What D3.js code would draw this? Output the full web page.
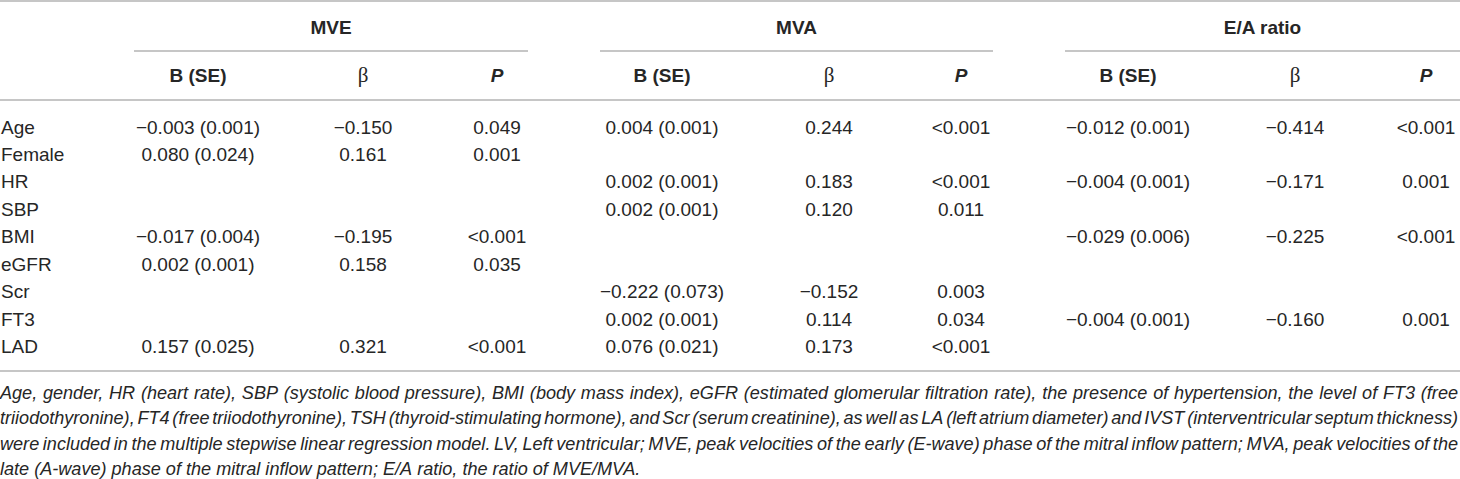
<!DOCTYPE html>
<html>
<head>
  <meta charset="utf-8">
  <script src="https://d3js.org/d3.v7.min.js"></script>
  <style>
    body { margin: 0; background: #fff; }
    svg text { font-family: "Liberation Sans", Arial, sans-serif; fill: #262626; }
  </style>
</head>
<body>
  <div id="area"></div>

  <script type="text/javascript">
    // row labels and column headers
    var rows = ["Age", "Female", "HR", "SBP", "BMI", "eGFR", "Scr", "FT3", "LAD"];
    var groups = ["MVE", "MVA", "E/A ratio"];
    var subHeads = ["B (SE)", "\u03b2", "P"];

    // MVE model ("" = not retained in the model)
    var mveB    = ["\u22120.003 (0.001)", "0.080 (0.024)", "", "", "\u22120.017 (0.004)", "0.002 (0.001)", "", "", "0.157 (0.025)"];
    var mveBeta = ["\u22120.150", "0.161", "", "", "\u22120.195", "0.158", "", "", "0.321"];
    var mveP    = ["0.049", "0.001", "", "", "<0.001", "0.035", "", "", "<0.001"];

    // MVA model
    var mvaB    = ["0.004 (0.001)", "", "0.002 (0.001)", "0.002 (0.001)", "", "", "\u22120.222 (0.073)", "0.002 (0.001)", "0.076 (0.021)"];
    var mvaBeta = ["0.244", "", "0.183", "0.120", "", "", "\u22120.152", "0.114", "0.173"];
    var mvaP    = ["<0.001", "", "<0.001", "0.011", "", "", "0.003", "0.034", "<0.001"];

    // E/A ratio model
    var eaB    = ["\u22120.012 (0.001)", "", "\u22120.004 (0.001)", "", "\u22120.029 (0.006)", "", "", "\u22120.004 (0.001)", ""];
    var eaBeta = ["\u22120.414", "", "\u22120.171", "", "\u22120.225", "", "", "\u22120.160", ""];
    var eaP    = ["<0.001", "", "0.001", "", "<0.001", "", "", "0.001", ""];

    // footnote, as broken in the original
    var noteLines = [
      "Age, gender, HR (heart rate), SBP (systolic blood pressure), BMI (body mass index), eGFR (estimated glomerular filtration rate), the presence of hypertension, the level of FT3 (free",
      "triiodothyronine), FT4 (free triiodothyronine), TSH (thyroid-stimulating hormone), and Scr (serum creatinine), as well as LA (left atrium diameter) and IVST (interventricular septum thickness)",
      "were included in the multiple stepwise linear regression model. LV, Left ventricular; MVE, peak velocities of the early (E-wave) phase of the mitral inflow pattern; MVA, peak velocities of the",
      "late (A-wave) phase of the mitral inflow pattern; E/A ratio, the ratio of MVE/MVA."
    ];

    function draw() {
      "use strict";

      var width = 1460, height = 479;
      var fs = 19;           // body font size
      var ruleColor = "#b3b3b3";

      var svg = d3.select("#area").append("svg")
        .attr("width", width)
        .attr("height", height);

      var columns = [
        { group: "MVE", vals: [mveB, mveBeta, mveP] },
        { group: "MVA", vals: [mvaB, mvaBeta, mvaP] },
        { group: "E/A ratio", vals: [eaB, eaBeta, eaP] }
      ];

      // column centres (not evenly spaced in the original)
      var colKeys = [];
      groups.forEach(function(g) { subHeads.forEach(function(s, i) { colKeys.push(g + "|" + i); }); });
      var x = d3.scaleOrdinal()
        .domain(colKeys)
        .range([198, 363, 497, 662, 829, 961, 1128, 1295, 1426]);

      // group underline extents
      var span = d3.scaleOrdinal()
        .domain(groups)
        .range([[134, 528], [600, 993], [1065, 1460]]);

      // row centres
      var y = d3.scalePoint()
        .domain(rows)
        .range([126.5, 346]);

      //horizontal rules
      svg.selectAll("line.rule")
        .data([1, 100, 371])
        .enter().append("line")
        .attr("class", "rule")
        .attr("x1", 0).attr("x2", width)
        .attr("y1", function(d) { return d; })
        .attr("y2", function(d) { return d; })
        .style("stroke", ruleColor)
        .style("stroke-width", 1.6);

      svg.selectAll("line.grp")
        .data(groups)
        .enter().append("line")
        .attr("class", "grp")
        .attr("x1", function(d) { return span(d)[0]; })
        .attr("x2", function(d) { return span(d)[1]; })
        .attr("y1", 51).attr("y2", 51)
        .style("stroke", ruleColor)
        .style("stroke-width", 1.6);

      // group titles
      svg.selectAll("text.grp")
        .data(groups)
        .enter().append("text")
        .attr("class", "grp")
        .attr("x", function(d) { return (span(d)[0] + span(d)[1]) / 2; })
        .attr("y", 34)
        .style("text-anchor", "middle")
        .style("font-weight", "bold")
        .style("font-size", fs + "px")
        .text(function(d) { return d; });

      // sub headers
      groups.forEach(function(g) {
        subHeads.forEach(function(s, i) {
          var t = svg.append("text")
            .attr("x", x(g + "|" + i))
            .attr("y", 82)
            .style("text-anchor", "middle")
            .style("font-size", fs + "px")
            .text(s);
          if (i === 1) {
            t.style("font-family", "'Liberation Serif', 'DejaVu Serif', serif")
             .style("font-size", (fs + 2) + "px");
          } else {
            t.style("font-weight", "bold");
            if (i === 2) t.style("font-style", "italic");
          }
        });
      });

      // row labels
      svg.selectAll("text.lab")
        .data(rows)
        .enter().append("text")
        .attr("class", "lab")
        .attr("x", 1)
        .attr("y", function(d) { return y(d) + 7; })
        .style("font-size", fs + "px")
        .text(function(d) { return d; });

      // cell values
      columns.forEach(function(c) {
        c.vals.forEach(function(arr, i) {
          svg.selectAll(null)
            .data(arr.map(function(v, r) { return { v: v, row: rows[r] }; }).filter(function(d) { return d.v !== ""; }))
            .enter().append("text")
            .attr("x", x(c.group + "|" + i))
            .attr("y", function(d) { return y(d.row) + 7; })
            .style("text-anchor", "middle")
            .style("font-size", fs + "px")
            .text(function(d) { return d.v; });
        });
      });

      // footnote: italic, justified like the journal layout
      var probe = svg.append("text")
        .style("font-style", "italic")
        .style("font-size", "18px")
        .text(noteLines[3]);
      var noteFs = 18 * 640 / probe.node().getComputedTextLength();
      probe.remove();

      function wordWidth(w) {
        var t = svg.append("text").style("font-style", "italic").style("font-size", noteFs + "px").text(w);
        var len = t.node().getComputedTextLength();
        t.remove();
        return len;
      }

      var noteY = d3.scalePoint().domain(d3.range(noteLines.length)).range([398.5, 475]);
      var noteRight = 1458;

      noteLines.forEach(function(line, li) {
        var words = line.split(" ");
        var widths = words.map(wordWidth);
        var gap = wordWidth("a a") - wordWidth("aa");
        if (li < noteLines.length - 1) {
          gap = (noteRight - d3.sum(widths)) / (words.length - 1);
        }
        var pos = 0;
        var placed = words.map(function(w, k) {
          var p = { w: w, x: pos };
          pos += widths[k] + gap;
          return p;
        });
        svg.selectAll(null)
          .data(placed)
          .enter().append("text")
          .attr("x", function(d) { return d.x; })
          .attr("y", noteY(li))
          .style("font-style", "italic")
          .style("font-size", noteFs + "px")
          .text(function(d) { return d.w; });
      });
    }

    draw();
  </script>
</body>
</html>
